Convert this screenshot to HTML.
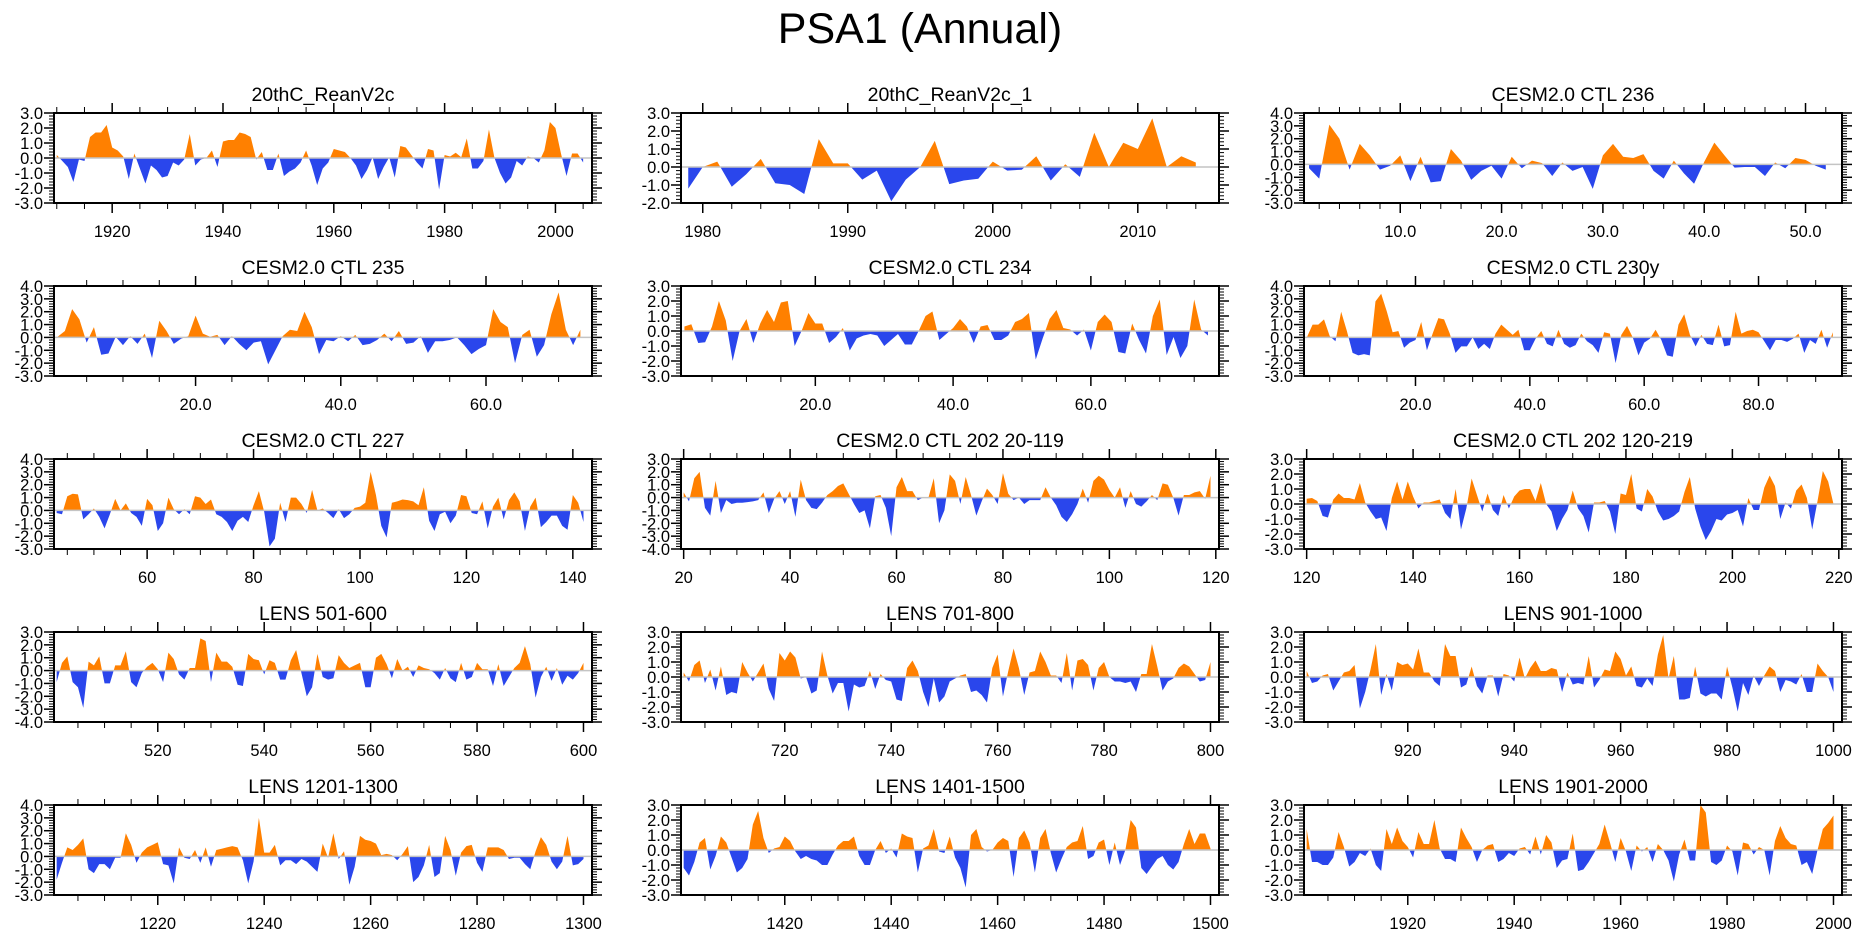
<!DOCTYPE html>
<html>
<head>
<meta charset="utf-8">
<style>
  html,body{margin:0;padding:0;background:#fff;}
  svg{display:block;}
  text{font-family:"Liberation Sans",Arial,sans-serif;fill:#000;}
</style>
</head>
<body>
<svg id="chart" width="1861" height="936" viewBox="0 0 1861 936" xmlns="http://www.w3.org/2000/svg">
  <rect width="1861" height="936" fill="#fff"/>
  <text x="920" y="43" font-size="43" text-anchor="middle">PSA1 (Annual)</text>
</svg>
<script>
const titles = ["20thC_ReanV2c","20thC_ReanV2c_1","CESM2.0 CTL 236","CESM2.0 CTL 235","CESM2.0 CTL 234","CESM2.0 CTL 230y","CESM2.0 CTL 227","CESM2.0 CTL 202 20-119","CESM2.0 CTL 202 120-219","LENS 501-600","LENS 701-800","LENS 901-1000","LENS 1201-1300","LENS 1401-1500","LENS 1901-2000"];
const starts = [1910,1979,1,1,1,1,43,20,120,501,701,901,1201,1401,1901];
const yMaxs = [3,3,4,4,3,4,4,3,3,3,3,3,4,3,3];
const yMins = [-3,-2,-3,-3,-3,-3,-3,-4,-3,-4,-3,-3,-3,-3,-3];
const majorSteps = [20,10,10,20,20,20,20,20,20,20,20,20,20,20,20];
const minorSteps = [5,2,2,5,5,5,5,5,5,5,5,5,5,5,5];
const labelDecimals = [0,0,1,1,1,1,0,0,0,0,0,0,0,0,0];

const s1 = [0.2,-0.2,-0.6,-1.6,-0.1,-0.2,1.4,1.7,1.7,2.2, 0.7,0.5,0.1,-1.4,0.3,-0.7,-1.7,-0.5,-0.8,-1.3, -1.2,-0.3,-0.5,-0.1,1.6,-0.5,-0.1,0.0,0.5,-0.6, 1.1,1.2,1.2,1.7,1.6,1.4,-0.1,0.4,-0.8,-0.8, 0.3,-1.2,-0.9,-0.7,-0.3,0.5,-0.5,-1.8,-0.7,-0.3, 0.6,0.5,0.4,0.0,-0.5,-1.4,-0.8,0.05,-1.4,-0.6, 0.05,-1.3,0.8,0.7,0.2,-0.3,-0.7,0.6,0.5,-2.1, 0.2,0.1,0.35,0.05,1.3,-0.7,-0.7,-0.2,1.9,0.0, -1.0,-1.7,-1.3,-0.2,-0.5,0.1,0.0,-0.3,0.5,2.4, 2.0,0.3,-1.2,0.3,0.3,-0.3];
const s2 = [-1.2,0.0,0.3,-1.1,-0.4,0.45,-0.9,-1.0,-1.5,1.55,0.2,0.2,-0.7,-0.2,-1.9,-0.7,0.0,1.45,-0.95,-0.75,-0.65,0.3,-0.2,-0.15,0.6,-0.75,0.15,-0.55,1.9,0.0,1.35,1.0,2.7,0.0,0.6,0.25];
const s3 = [-0.3,-1.1,3.1,2.0,-0.4,1.6,0.7,-0.4,-0.1,0.7,-1.3,0.6,-1.4,-1.3,1.2,0.3,-1.2,-0.5,-0.1,-1.1,0.6,-0.3,0.3,0.1,-0.9,0.15,-0.5,-0.2,-1.9,0.7,1.6,0.6,0.5,0.8,-0.5,-1.1,0.3,-0.7,-1.5,0.2,1.7,0.7,-0.25,-0.2,-0.2,-0.9,0.15,-0.3,0.5,0.35,-0.1,-0.4];
const s4 = [0.05,0.5,2.2,1.4,-0.4,0.8,-1.35,-1.25,0.05,-0.6,0.1,-0.5,0.3,-1.6,1.3,0.5,-0.5,-0.1,0.1,1.7,0.3,0.05,0.2,-0.6,0.1,-0.5,-1.0,-0.4,-0.3,-2.1,-1.0,0.1,0.6,0.5,2.0,0.8,-1.3,-0.2,-0.3,0.1,-0.3,0.2,-0.6,-0.5,-0.2,0.3,-0.3,0.5,-0.5,-0.4,0.1,-1.2,-0.3,-0.3,-0.2,0.0,-0.6,-1.3,-0.9,-0.6,2.2,1.2,0.8,-2.0,0.2,0.6,-1.5,-0.6,1.8,3.5,0.6,-0.6,0.6];
const s5 = [0.3,0.45,-0.8,-0.75,0.3,2.0,0.7,-2.0,0.0,0.8,-0.8,0.5,1.4,0.6,1.9,2.0,-1.0,0.0,1.2,0.5,0.5,-0.8,-0.4,0.2,-1.3,-0.5,-0.3,-0.2,-0.3,-1.0,-0.6,-0.2,-0.9,-0.9,0.0,1.0,1.3,-0.6,-0.2,0.2,0.8,0.3,-0.8,0.3,0.4,-0.6,-0.6,-0.3,0.6,0.8,1.2,-1.9,-0.5,0.8,1.4,0.2,0.1,-0.3,0.1,-1.3,0.6,1.1,0.6,-1.4,-1.5,0.5,-0.6,-1.5,1.0,2.1,-1.6,-0.4,-1.8,-1.0,2.1,0.1,-0.3];
const s6 = [0.0,1.0,1.0,1.4,0.1,-0.3,2.0,0.5,-1.2,-1.4,-1.3,-1.4,2.8,3.4,2.0,0.4,0.5,-0.8,-0.4,-0.2,1.2,-1.0,0.3,1.5,1.4,0.3,-1.2,-0.7,-0.7,0.0,-0.9,-0.5,-0.9,0.3,1.0,0.6,0.2,0.6,-1.0,-1.0,-0.1,0.5,-0.5,-0.7,0.6,-0.5,-0.8,-0.6,0.3,-0.3,-0.6,-1.2,0.4,0.3,-2.0,0.2,0.9,0.0,-1.4,-0.4,-0.1,0.6,-0.2,-1.4,-1.5,1.0,1.8,0.2,-0.7,0.2,-0.5,-0.6,1.0,-0.7,-0.6,2.0,0.3,0.5,0.6,0.4,-0.3,-1.0,-0.2,-0.2,-0.35,-0.1,0.3,-1.2,-0.2,-0.5,0.6,-0.8,0.4];
const s7 = [-0.2,-0.3,1.1,1.3,1.25,-0.7,-0.3,0.15,-0.5,-1.4,-0.3,0.9,0.0,0.55,-0.2,-0.5,-1.2,0.9,0.4,-1.6,-1.0,1.0,0.1,-0.3,0.1,-0.3,1.1,1.0,0.5,0.85,-0.3,-0.5,-0.9,-1.6,-0.8,-0.5,-0.9,0.4,1.5,-0.1,-2.8,-2.2,0.6,-0.9,1.0,1.0,0.5,-0.2,1.6,0.0,0.15,-0.2,-0.6,0.1,-0.6,-0.3,0.2,0.3,0.6,3.0,1.2,-1.2,-2.1,0.6,0.7,0.85,0.8,0.7,0.4,1.8,-0.8,-1.6,-0.3,-0.1,-1.0,-0.4,1.2,1.1,-0.2,-0.3,0.7,-1.4,0.3,1.0,-0.7,0.8,1.4,0.7,-1.6,0.3,1.0,-1.3,-0.9,-0.4,-0.4,-1.2,-1.5,1.2,0.6,-0.9];
const s8 = [0.4,-0.3,1.5,2.0,-0.8,-1.4,1.3,-1.2,-0.2,-0.5,-0.4,-0.4,-0.35,-0.3,-0.2,0.4,-1.2,-0.1,0.5,-0.5,0.5,-1.5,1.4,-0.2,-0.8,-0.9,-0.4,0.2,0.5,0.9,1.1,0.3,-0.5,-1.2,-1.0,-2.4,0.1,0.2,-0.8,-3.0,0.8,1.6,0.5,0.5,-0.2,0.0,0.0,1.5,-2.0,-1.0,1.8,1.3,-0.5,1.6,0.2,-1.4,-0.3,0.7,0.2,-0.5,1.9,0.3,-0.2,0.0,-0.5,-0.2,-0.2,-0.2,0.8,0.0,-0.6,-1.5,-1.9,-1.3,-0.5,0.7,-0.4,1.3,1.7,1.4,0.6,0.0,0.8,-0.8,0.5,-0.5,-0.7,-0.3,0.2,-0.2,1.1,1.0,0.0,-1.4,0.2,0.2,0.4,0.5,-0.1,1.7];
const s9 = [0.35,0.4,0.2,-0.8,-0.9,0.3,0.7,0.4,0.4,0.3,1.4,0.1,-0.5,-1.0,-0.9,-1.8,0.4,1.5,0.3,1.5,0.5,-0.3,0.1,0.1,0.2,0.3,-0.6,-1.0,1.0,-1.7,-0.3,1.7,0.6,-0.5,0.7,-0.4,-0.8,0.6,-0.3,0.5,0.9,1.0,1.0,0.2,1.4,0.0,-0.5,-1.8,-1.0,-0.4,0.9,-0.3,-0.8,-1.9,0.1,0.1,0.2,-0.5,-2.0,0.7,0.6,2.0,-0.3,-0.5,1.0,0.5,-0.5,-1.1,-1.0,-0.8,-0.5,0.8,1.8,-0.3,-1.5,-2.4,-1.8,-1.0,-1.1,-0.7,-0.6,-0.4,-1.5,0.4,-0.4,-0.4,1.1,1.9,1.2,-1.0,0.1,-0.3,0.9,1.3,0.4,-1.7,0.2,2.2,1.5,0.0];
const s10 = [-0.9,0.6,1.1,-0.9,-1.3,-2.9,0.7,0.4,1.1,-1.0,-1.0,0.4,0.4,1.5,-0.9,-1.3,-0.2,0.3,0.6,0.1,-0.9,1.4,0.9,-0.3,-0.7,0.2,0.2,2.5,2.3,-0.9,1.4,0.7,0.7,0.3,-1.1,-1.2,1.3,0.9,0.8,-0.3,0.8,0.6,-0.7,-0.7,0.8,1.6,-0.2,-2.0,-1.3,1.3,-0.5,-0.7,-0.6,1.2,0.6,0.2,0.4,0.6,-1.3,-1.3,1.0,1.3,0.5,-0.6,0.9,0.0,0.3,-0.5,0.4,0.2,0.1,-0.2,-0.7,0.2,-0.6,-0.9,0.6,-0.7,-0.5,0.6,0.1,0.1,-1.2,0.5,-1.2,-0.5,0.2,0.6,1.9,0.5,-2.1,-0.5,0.3,-0.8,0.2,-1.1,-0.4,-0.7,-0.2,0.6];
const s11 = [0.3,-0.3,0.8,1.1,-0.4,0.5,-0.9,0.7,-1.2,-1.0,-1.1,1.0,0.3,-0.3,0.3,0.9,-0.8,-1.6,1.6,1.1,1.7,1.3,-0.1,0.0,-1.1,-0.9,1.7,0.1,-1.1,-0.4,-0.4,-2.3,-0.5,-0.7,-0.6,0.4,-0.8,0.2,-0.2,-0.3,-1.5,-1.6,0.6,1.1,0.4,-1.0,-2.0,-0.1,-1.7,-1.3,-0.3,-0.1,0.1,0.2,-1.0,-0.9,-1.2,-1.7,0.6,1.5,-1.3,0.4,1.9,0.6,-1.2,0.3,0.4,1.7,1.0,0.1,0.1,-0.4,1.6,-0.9,1.1,1.2,0.8,-0.9,0.6,1.0,0.0,-0.3,-0.3,-0.4,-0.3,-1.0,0.2,0.2,2.2,0.7,-0.9,-0.3,-0.1,0.6,0.9,0.7,0.2,-0.3,-0.2,1.0];
const s12 = [0.4,-0.4,-0.3,0.1,0.2,-0.9,-0.3,0.3,0.4,0.8,-2.1,-1.0,0.5,2.2,-1.2,0.2,-0.9,1.0,0.8,0.9,0.5,1.9,0.3,0.3,-0.3,-0.6,2.2,1.4,1.4,-0.7,-0.5,0.7,-0.6,-1.1,0.1,0.1,-1.3,0.2,0.1,-0.3,1.3,-0.1,0.6,1.1,0.4,0.4,0.6,0.5,-1.0,0.3,-0.5,-0.4,-0.5,1.4,-0.7,-0.2,0.5,0.4,1.7,1.2,0.1,0.7,-0.6,-0.7,-0.1,-0.6,1.5,2.8,-0.1,1.4,-1.5,-1.5,-1.4,0.7,-1.1,-1.3,-1.1,-1.1,-1.5,0.7,-0.7,-2.3,-0.4,-1.2,0.1,-0.6,0.1,0.7,0.4,-1.0,-0.2,-0.3,-0.5,0.2,-1.0,-1.0,0.9,0.4,0.0,-1.0];
const s13 = [-1.8,-0.5,0.7,0.5,0.9,1.4,-1.0,-1.3,-0.6,-0.6,-1.0,-0.1,-0.1,1.8,0.9,-0.5,0.3,0.7,0.9,1.1,-0.6,-0.7,-2.1,0.7,-0.1,-0.2,0.5,-0.5,0.7,-0.8,0.5,0.6,0.7,0.8,0.7,-0.3,-2.1,-0.4,3.0,0.3,0.3,0.9,-0.7,-0.3,-0.3,-0.6,-0.2,-0.4,-0.8,-1.2,1.0,-0.1,1.8,-0.2,0.4,-2.2,-0.8,1.6,1.3,1.2,1.0,0.1,0.2,0.1,-0.3,0.2,0.8,-2.0,-1.6,-0.7,0.9,-1.6,-1.3,1.6,0.5,-1.5,0.3,0.8,0.9,-0.5,-1.2,0.7,0.7,0.7,0.5,-0.2,-0.1,-0.1,-0.6,-1.0,0.4,1.5,0.9,-0.4,-1.0,-0.4,1.6,-0.7,-0.6,-0.2];
const s14 = [-1.2,-1.7,-0.8,0.5,0.8,-1.3,-0.4,0.9,0.5,-0.5,-1.5,-1.2,-0.6,1.7,2.6,0.8,-0.2,0.1,0.2,0.9,0.6,-0.1,-0.6,-0.4,-0.6,-0.7,-1.0,-1.0,-0.3,0.3,0.6,0.6,0.9,-0.4,-1.0,-1.0,0.0,0.6,-0.2,0.1,-0.5,1.1,0.9,0.8,-1.5,0.1,0.3,1.4,-0.1,-0.2,0.9,-0.5,-1.2,-2.5,1.0,1.4,0.2,-0.1,0.0,0.5,0.8,0.6,-1.8,0.8,1.3,0.5,-1.5,0.8,1.4,-0.2,-1.5,-0.6,0.2,0.5,0.6,1.6,-0.6,-0.4,0.5,0.7,-1.0,0.5,-1.0,0.0,2.0,1.5,-1.2,-1.6,-1.1,-0.6,-0.4,-1.0,-1.3,-0.8,0.4,1.4,0.4,1.1,1.1,0.1];
const s15 = [1.4,-0.8,-0.8,-1.0,-1.0,-0.5,1.2,0.2,-1.1,-0.8,-0.2,-0.4,0.1,-1.0,-1.4,1.4,0.4,1.5,0.6,0.2,-0.5,1.2,0.4,0.4,2.0,0.1,-0.6,-0.6,-0.8,1.5,0.8,0.2,-0.8,0.0,0.3,0.4,-0.8,-0.6,-0.2,-0.4,0.1,0.2,-0.3,0.9,-0.3,1.0,0.5,-1.2,-0.7,-0.6,1.1,-1.4,-1.3,-0.8,-0.2,0.4,1.7,0.5,-0.8,0.8,-0.1,-1.4,0.3,-0.1,0.2,-0.8,0.4,0.0,-0.7,-2.1,-0.3,0.7,-0.7,-0.7,3.0,2.5,-0.8,-1.0,-0.7,0.3,-0.1,-1.7,0.5,0.4,-0.3,0.2,0.0,-1.7,0.6,1.6,0.8,0.4,0.3,-1.0,-0.8,-1.6,0.0,1.4,1.8,2.3];

const seriesList = [s1,s2,s3,s4,s5,s6,s7,s8,s9,s10,s11,s12,s13,s14,s15];

const NS = "http://www.w3.org/2000/svg";
const svg = document.getElementById("chart");
const colLefts = [54, 681, 1304];
const rowTops = [113, 286, 459, 632, 805];
const PW = 538, PH = 90;
const ORANGE = "#ff8000", BLUE = "#2a46ec";

function mk(tag, attrs, parent) {
  const e = document.createElementNS(NS, tag);
  for (const k in attrs) e.setAttribute(k, attrs[k]);
  (parent || svg).appendChild(e);
  return e;
}
function line(g, x1, y1, x2, y2, w) {
  const l = mk("line", {x1:x1, y1:y1, x2:x2, y2:y2, stroke:"#000", "stroke-width":w}, g);
  
  
  return l;
}

for (let p = 0; p < 15; p++) {
  const vals = seriesList[p];
  const start = starts[p];
  const last = start + vals.length - 1;
  const xmin = start - 0.5, xmax = last + 1.6;
  const ymax = yMaxs[p], ymin = yMins[p];
  const L = colLefts[p % 3], T = rowTops[Math.floor(p / 3)];
  const xs = v => L + (v - xmin) / (xmax - xmin) * PW;
  const ys = v => T + (ymax - v) / (ymax - ymin) * PH;

  const g = mk("g", {});
  
  

  const zy = ys(0);
  const defs = mk("defs", {}, g);
  const cA = mk("clipPath", {id: "ca" + p}, defs);
  mk("rect", {x: L, y: T, width: PW, height: zy - T}, cA);
  const cB = mk("clipPath", {id: "cb" + p}, defs);
  mk("rect", {x: L, y: zy, width: PW, height: T + PH - zy}, cB);

  let pts = xs(start).toFixed(2) + "," + zy.toFixed(2) + " ";
  vals.forEach((v, i) => { pts += xs(start + i).toFixed(2) + "," + ys(v).toFixed(2) + " "; });
  pts += xs(last).toFixed(2) + "," + zy.toFixed(2);

  const pa = mk("polygon", {points: pts, fill: ORANGE, "clip-path": "url(#ca" + p + ")"}, g);
  
  
  const pb = mk("polygon", {points: pts, fill: BLUE, "clip-path": "url(#cb" + p + ")"}, g);
  
  

  const zl = mk("line", {x1: L, x2: L + PW, y1: zy, y2: zy, stroke: "#c4c4c4", "stroke-width": 1.5}, g);
  
  

  const fr = mk("rect", {x: L, y: T, width: PW, height: PH, fill: "none", stroke: "#000", "stroke-width": 2}, g);
  
  

  for (let k = Math.round(ymin * 5); k <= Math.round(ymax * 5); k++) {
    const v = k / 5, y = ys(v);
    const major = (k % 5 === 0);
    const len = major ? 10 : 5;
    line(g, L - len, y, L, y, major ? 1.5 : 1);
    line(g, L + PW, y, L + PW + len, y, major ? 1.5 : 1);
    if (major) {
      const t = mk("text", {x: L - 11, y: y + 6, "font-size": 16.5, "text-anchor": "end"}, g);
      t.textContent = v.toFixed(1);
      
      
    }
  }
  const ms = minorSteps[p], Ms = majorSteps[p];
  for (let v = Math.ceil(xmin / ms) * ms; v <= xmax; v += ms) {
    const x = xs(v);
    const major = (Math.abs(v % Ms) < 1e-9);
    const len = major ? 10 : 6;
    line(g, x, T - len, x, T, major ? 1.5 : 1);
    line(g, x, T + PH, x, T + PH + len, major ? 1.5 : 1);
    if (major) {
      const t = mk("text", {x: x, y: T + PH + 34, "font-size": 16.5, "text-anchor": "middle"}, g);
      t.textContent = v.toFixed(labelDecimals[p]);
      
      
    }
  }
  const tt = mk("text", {x: L + PW / 2, y: T - 12, "font-size": 19.5, "text-anchor": "middle"}, g);
  tt.textContent = titles[p];
  
  
}
</script>
</body>
</html>
